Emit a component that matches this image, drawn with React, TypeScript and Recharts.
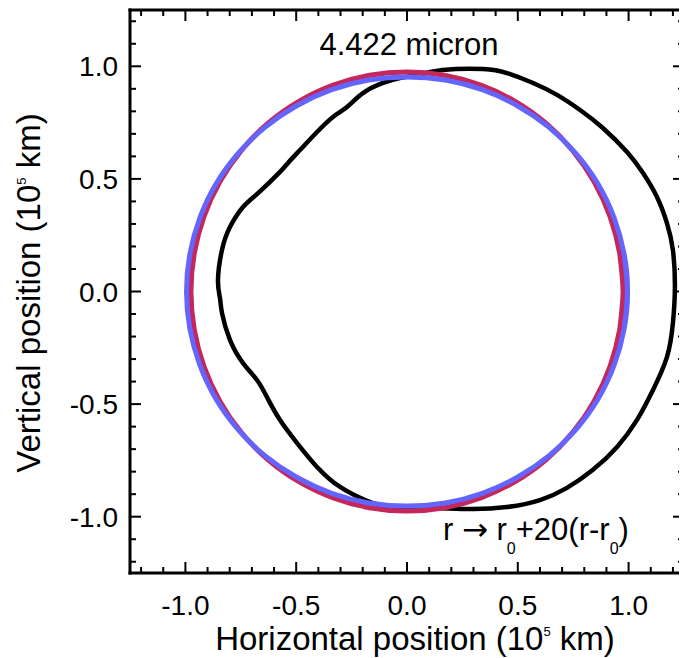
import { Scatter, ScatterChart, XAxis, YAxis } from 'recharts'

// limb outline, stretched 20x about the reference radius
const limbX = [
    0.045, 0.16, 0.343, 0.451, 0.569, 0.677, 0.781, 0.884, 0.993, 1.065, 1.128, 1.173, 1.2, 1.209,
    1.2, 1.173, 1.11, 1.038, 0.948, 0.839, 0.722, 0.6, 0.451, 0.298, 0.149, -0.063, -0.181, -0.302, -0.406,
    -0.496, -0.573, -0.632, -0.677, -0.74, -0.799, -0.835, -0.844, -0.853, -0.835, -0.799, -0.74, -0.672, -0.573,
    -0.537, -0.483, -0.406, -0.334, -0.271, -0.199, -0.108, -0.032, 0.045, 0.16
]
const limbY = [
    0.961, 0.984, 0.988, 0.97, 0.926, 0.873, 0.806, 0.726, 0.619, 0.526, 0.42, 0.304, 0.184, 0.022,
    -0.14, -0.291, -0.437, -0.57, -0.69, -0.792, -0.872, -0.926, -0.957, -0.966, -0.962, -0.957, -0.93, -0.868,
    -0.779, -0.673, -0.571, -0.469, -0.393, -0.318, -0.215, -0.095, -0.029, 0.051, 0.184, 0.286, 0.375, 0.437,
    0.531, 0.571, 0.628, 0.708, 0.775, 0.819, 0.881, 0.926, 0.948, 0.961, 0.984
]

// reference circle (red), one point of overlap at each end
const circleX = [
    0.96, 0.975, 0.96, 0.916, 0.844, 0.747, 0.627, 0.488, 0.333, 0.169, 0,
    -0.169, -0.333, -0.488, -0.627, -0.747, -0.844, -0.916, -0.96, -0.975,
    -0.96, -0.916, -0.844, -0.747, -0.627, -0.488, -0.333, -0.169, 0,
    0.169, 0.333, 0.488, 0.627, 0.747, 0.844, 0.916, 0.96, 0.975, 0.96
]
const circleY = [
    -0.169, 0, 0.169, 0.333, 0.488, 0.627, 0.747, 0.844, 0.916, 0.96, 0.975,
    0.96, 0.916, 0.844, 0.747, 0.627, 0.488, 0.333, 0.169, 0,
    -0.169, -0.333, -0.488, -0.627, -0.747, -0.844, -0.916, -0.96, -0.975,
    -0.96, -0.916, -0.844, -0.747, -0.627, -0.488, -0.333, -0.169, 0, 0.169
]

// oblate ellipse (blue), one point of overlap at each end
const ellipseX = [
    0.98, 0.995, 0.98, 0.935, 0.862, 0.762, 0.64, 0.498, 0.34, 0.173, 0,
    -0.173, -0.34, -0.498, -0.64, -0.762, -0.862, -0.935, -0.98, -0.995,
    -0.98, -0.935, -0.862, -0.762, -0.64, -0.498, -0.34, -0.173, 0,
    0.173, 0.34, 0.498, 0.64, 0.762, 0.862, 0.935, 0.98, 0.995, 0.98
]
const ellipseY = [
    -0.165, 0, 0.165, 0.326, 0.477, 0.613, 0.73, 0.825, 0.896, 0.939, 0.953,
    0.939, 0.896, 0.825, 0.73, 0.613, 0.477, 0.326, 0.165, 0,
    -0.165, -0.326, -0.477, -0.613, -0.73, -0.825, -0.896, -0.939, -0.953,
    -0.939, -0.896, -0.825, -0.73, -0.613, -0.477, -0.326, -0.165, 0, 0.165
]

// ticks every 0.1, labels every 0.5
const ticks = [
    -1.2, -1.1, -1.0, -0.9, -0.8, -0.7, -0.6, -0.5, -0.4, -0.3, -0.2, -0.1, 0,
    0.1, 0.2, 0.3, 0.4, 0.5, 0.6, 0.7, 0.8, 0.9, 1.0, 1.1, 1.2
]

const FONT = '"Liberation Sans", Arial, Helvetica, sans-serif'

const zip = (xs: number[], ys: number[]) => xs.map((x, i) => ({ x, y: ys[i] }))

const isMajor = (v: number) => Math.abs(v * 2 - Math.round(v * 2)) < 1e-6

const noDot = () => <g />

const makeTick = (side: 'bottom' | 'top' | 'left' | 'right') => (props: any) => {
    const { x, y, payload } = props
    const v = payload.value as number
    const len = isMajor(v) ? 11 : 6
    const lbl = v.toFixed(1)
    if (side === 'bottom')
        return (
            <g>
                <line x1={x} x2={x} y1={y} y2={y - len} stroke="#000" strokeWidth={2} />
                {isMajor(v) && (
                    <text x={x} y={y + 42} textAnchor="middle" fontSize={28} fontFamily={FONT} fill="#000">
                        {lbl}
                    </text>
                )}
            </g>
        )
    if (side === 'top') return <line x1={x} x2={x} y1={y} y2={y + len} stroke="#000" strokeWidth={2} />
    if (side === 'right') return <line x1={x} x2={x - len} y1={y} y2={y} stroke="#000" strokeWidth={2} />
    return (
        <g>
            <line x1={x} x2={x + len} y1={y} y2={y} stroke="#000" strokeWidth={2} />
            {isMajor(v) && (
                <text x={x - 12} y={y + 10} textAnchor="end" fontSize={28} fontFamily={FONT} fill="#000">
                    {lbl}
                </text>
            )}
        </g>
    )
}

const axisLine = { stroke: '#000', strokeWidth: 3, strokeLinecap: 'square' as const }

export default function App() {
    return (
        <div style={{ width: 679, height: 650 }}>
            <ScatterChart width={679} height={650} margin={{ top: 1, right: 2, bottom: 84, left: 121 }}>
                <XAxis xAxisId="b" type="number" dataKey="x" domain={[-1.25, 1.25]} ticks={ticks} interval={0}
                    height={1} tickSize={0} tickMargin={0} axisLine={axisLine} tick={makeTick('bottom')} allowDataOverflow />
                <XAxis xAxisId="t" orientation="top" type="number" dataKey="x" domain={[-1.25, 1.25]} ticks={ticks}
                    interval={0} height={1} tickSize={0} tickMargin={0} axisLine={axisLine} tick={makeTick('top')} allowDataOverflow />
                <YAxis yAxisId="l" type="number" dataKey="y" domain={[-1.25, 1.25]} ticks={ticks} interval={0}
                    width={1} tickSize={0} tickMargin={0} axisLine={axisLine} tick={makeTick('left')} allowDataOverflow />
                <YAxis yAxisId="r" orientation="right" type="number" dataKey="y" domain={[-1.25, 1.25]} ticks={ticks}
                    interval={0} width={1} tickSize={0} tickMargin={0} axisLine={axisLine} tick={makeTick('right')} allowDataOverflow />

                <Scatter xAxisId="b" yAxisId="l" data={zip(limbX, limbY)} line={{ stroke: '#000', strokeWidth: 4.5 }}
                    lineJointType="natural" shape={noDot} isAnimationActive={false} />
                <Scatter xAxisId="b" yAxisId="l" data={zip(circleX, circleY)} line={{ stroke: '#c4285a', strokeWidth: 5 }}
                    lineJointType="natural" shape={noDot} isAnimationActive={false} />
                <Scatter xAxisId="b" yAxisId="l" data={zip(ellipseX, ellipseY)} line={{ stroke: '#6464ff', strokeWidth: 5 }}
                    lineJointType="natural" shape={noDot} isAnimationActive={false} />

                <text x={401} y={47} textAnchor="middle" fontSize={31} fontFamily={FONT} fill="#000">4.422 micron</text>
                <text x={435} y={532} fontSize={31} fontFamily={FONT} fill="#000">
                    r <tspan fontFamily='"DejaVu Sans"'>→</tspan> r<tspan dy={14} fontSize={16}>0</tspan>
                    <tspan dy={-14}>+20(r-r</tspan>
                    <tspan dy={14} fontSize={16}>0</tspan>
                    <tspan dy={-14}>)</tspan>
                </text>
                <text x={407} y={642} textAnchor="middle" fontSize={33} fontFamily={FONT} fill="#000">
                    Horizontal position (10<tspan dy={-14} fontSize={13}>5</tspan>
                    <tspan dy={14}> km)</tspan>
                </text>
                <text x={0} y={0} transform="translate(32 285) rotate(-90)" textAnchor="middle" fontSize={33}
                    fontFamily={FONT} fill="#000">
                    Vertical position (10<tspan dy={-14} fontSize={13}>5</tspan>
                    <tspan dy={14}> km)</tspan>
                </text>
            </ScatterChart>
        </div>
    )
}
